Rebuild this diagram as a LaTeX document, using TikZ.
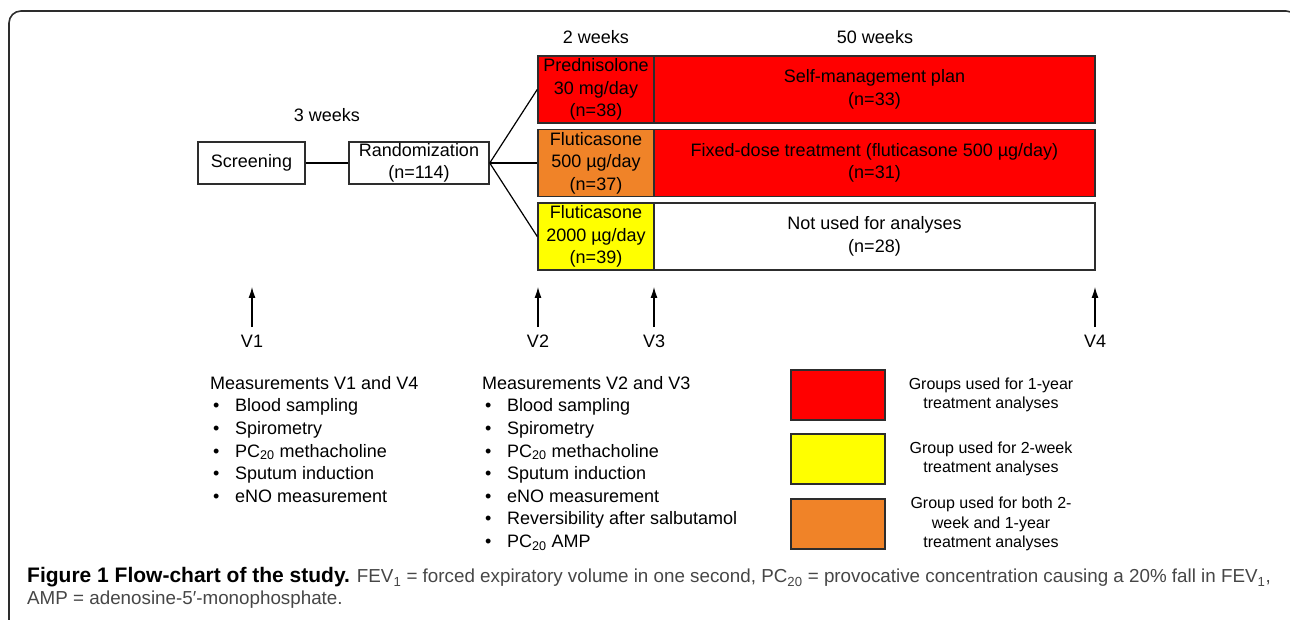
\documentclass[tikz,border=0pt]{standalone}
\usepackage{fontspec}
\setmainfont{Liberation Sans}
\usetikzlibrary{arrows, arrows.meta, positioning, calc}

\definecolor{grpred}{RGB}{255,0,0}
\definecolor{grpyellow}{RGB}{255,255,0}
\definecolor{grporange}{RGB}{240,131,40}
\definecolor{edgegray}{RGB}{45,45,45}
\definecolor{capgray}{RGB}{70,70,70}

\begin{document}
\begin{tikzpicture}[x=1pt, y=-1pt,
    box/.style={draw=edgegray, line width=1.5pt, inner sep=0pt, align=center, font=\fontsize{18}{22.5}\selectfont},
    armbox/.style={box, minimum width=116pt, minimum height=67pt},
    planbox/.style={box, minimum width=441pt, minimum height=67pt},
    keybox/.style={draw=edgegray, line width=1.2pt, minimum width=94pt, minimum height=50pt},
    keytext/.style={align=center, font=\fontsize{16}{19.5}\selectfont},
    lbl/.style={font=\fontsize{18}{21.5}\selectfont},
    meas/.style={anchor=north west, align=left, inner sep=0pt, font=\fontsize{18}{22.6}\selectfont}]

  \useasboundingbox (0,0) rectangle (1290,620);
  \draw[edgegray, line width=1.6pt, rounded corners=12pt] (9,11) rectangle (1298,660);

  % screening and randomization
  \node[box, minimum width=107pt, minimum height=42pt] (scr) at (251.5,163) {Screening};
  \node[box, minimum width=140pt, minimum height=42pt, font=\fontsize{18}{21.5}\selectfont] (rand) at (419,163) {Randomization\\(n=114)};
  \node[lbl] (w3) at (327,115) {3 weeks};
  \draw[line width=1.2pt] (scr) -- (rand);

  % the three arms
  \node[armbox, fill=grpred] (pred) at (596,89.5) {Prednisolone\\30 mg/day\\(n=38)};
  \node[armbox, fill=grporange] (flu5) at (596,163) {Fluticasone\\500 µg/day\\(n=37)};
  \node[armbox, fill=grpyellow] (flu2) at (596,236.5) {Fluticasone\\2000 µg/day\\(n=39)};
  \node[planbox, fill=grpred] (self) at (874.5,89.5) {Self-management plan\\(n=33)};
  \node[planbox, fill=grpred] (fixed) at (874.5,163) {Fixed-dose treatment (fluticasone 500 µg/day)\\(n=31)};
  \node[planbox] (notused) at (874.5,236.5) {Not used for analyses\\(n=28)};
  \node[lbl] (w2) at (596,37) {2 weeks};
  \node[lbl] (w50) at (875,37) {50 weeks};

  \draw[line width=1.2pt] (rand.east) -- (pred.west);
  \draw[line width=1.2pt] (rand.east) -- (flu5.west);
  \draw[line width=1.2pt] (rand.east) -- (flu2.west);

  % visits
  \foreach \v/\x in {1/252, 2/538, 3/654, 4/1095} {
    \node[lbl] (v\v) at (\x,341) {V\v};
    \coordinate (t\v) at (\x,287);
    \draw[-{Latex[length=11pt, width=7pt]}, line width=1.1pt] (\x,327) -- (t\v);
  }

  % measurements
  \node[meas] (m14) at (210,376) {Measurements V1 and V4\\
    \makebox[25pt][l]{\hspace{3pt}\textbullet}Blood sampling\\
    \makebox[25pt][l]{\hspace{3pt}\textbullet}Spirometry\\
    \makebox[25pt][l]{\hspace{3pt}\textbullet}PC\textsubscript{20} methacholine\\
    \makebox[25pt][l]{\hspace{3pt}\textbullet}Sputum induction\\
    \makebox[25pt][l]{\hspace{3pt}\textbullet}eNO measurement};
  \node[meas] (m23) at (482,376) {Measurements V2 and V3\\
    \makebox[25pt][l]{\hspace{3pt}\textbullet}Blood sampling\\
    \makebox[25pt][l]{\hspace{3pt}\textbullet}Spirometry\\
    \makebox[25pt][l]{\hspace{3pt}\textbullet}PC\textsubscript{20} methacholine\\
    \makebox[25pt][l]{\hspace{3pt}\textbullet}Sputum induction\\
    \makebox[25pt][l]{\hspace{3pt}\textbullet}eNO measurement\\
    \makebox[25pt][l]{\hspace{3pt}\textbullet}Reversibility after salbutamol\\
    \makebox[25pt][l]{\hspace{3pt}\textbullet}PC\textsubscript{20} AMP};

  % key
  \node[keybox, fill=grpred] (k1) at (838,395) {};
  \node[keybox, fill=grpyellow] (k2) at (838,459) {};
  \node[keybox, fill=grporange] (k3) at (838,524) {};
  \node[keytext] (k1t) at (991,395) {Groups used for 1-year\\treatment analyses};
  \node[keytext] (k2t) at (991,459) {Group used for 2-week\\treatment analyses};
  \node[keytext] (k3t) at (991,524) {Group used for both 2-\\week and 1-year\\treatment analyses};

  % caption
  \node[anchor=north west, align=left, inner sep=0pt, text=capgray, font=\fontsize{18.8}{22}\selectfont] (cap) at (27,567.5)
    {{\fontsize{21}{22}\selectfont\bfseries\color{black}Figure 1 Flow-chart of the study.} FEV\textsubscript{1} = forced expiratory volume in one second, PC\textsubscript{20} = provocative concentration causing a 20\% fall in FEV\textsubscript{1},\\AMP = adenosine-5′-monophosphate.};
\end{tikzpicture}
\end{document}
